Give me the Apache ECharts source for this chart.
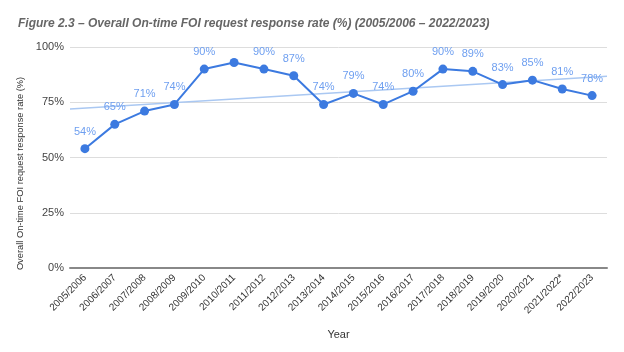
<!DOCTYPE html>
<html>
<head>
<meta charset="utf-8">
<script src="https://cdn.jsdelivr.net/npm/echarts@6/dist/echarts.min.js"></script>
<style>
  html, body { margin: 0; padding: 0; background: #fff; }
  #chart { width: 624px; height: 352px; }
</style>
</head>
<body>
<div id="chart"></div>
<script>
// 数据
var years = ["2005/2006", "2006/2007", "2007/2008", "2008/2009", "2009/2010", "2010/2011",
  "2011/2012", "2012/2013", "2013/2014", "2014/2015", "2015/2016", "2016/2017",
  "2017/2018", "2018/2019", "2019/2020", "2020/2021", "2021/2022*", "2022/2023"];
var rates = [54, 65, 71, 74, 90, 93, 90, 87, 74, 79, 74, 80, 90, 89, 83, 85, 81, 78];
// 哪些点显示数值标签（2010/2011 没有）
var showLabel = [1, 1, 1, 1, 1, 0, 1, 1, 1, 1, 1, 1, 1, 1, 1, 1, 1, 1];
// 趋势线两端的值（绘图区左右边缘处）
var trendEnds = [72, 86.8];
var yTicks = [0, 25, 50, 75, 100];

var myChart = echarts.init(document.getElementById("chart"));

var option = {
  animation: false,
  textStyle: { fontFamily: "Liberation Sans, Arial, sans-serif" },
  title: {
    text: "Figure 2.3 – Overall On-time FOI request response rate (%) (2005/2006 – 2022/2023)",
    left: 13,
    top: 13,
    textStyle: {
      fontFamily: "Liberation Sans, Arial, sans-serif",
      fontSize: 12,
      fontStyle: "italic",
      fontWeight: "bold",
      color: "#666"
    }
  },
  grid: { left: 70, right: 17, top: 47, bottom: 84 },
  xAxis: [
    {
      type: "category",
      data: years,
      boundaryGap: true,
      name: "Year",
      nameLocation: "middle",
      nameGap: 61,
      nameTextStyle: { color: "#333", fontSize: 11 },
      axisTick: { show: false },
      axisLine: { lineStyle: { color: "#888", width: 2 } },
      axisLabel: { rotate: 45, color: "#333", fontSize: 10, margin: 8, interval: 0 }
    },
    {
      type: "value",
      min: -0.5,
      max: years.length - 0.5,
      show: false
    }
  ],
  yAxis: {
    type: "value",
    min: yTicks[0],
    max: yTicks[yTicks.length - 1],
    interval: 25,
    name: "Overall On-time FOI request response rate (%)",
    nameLocation: "middle",
    nameGap: 39,
    nameTextStyle: { color: "#333", fontSize: 9.3, padding: [0, 32, 0, 0] },
    axisLine: { show: false },
    axisTick: { show: false },
    axisLabel: { color: "#444", fontSize: 11, formatter: "{value}%", margin: 6 },
    splitLine: { lineStyle: { color: "#ddd", width: 1 } }
  },
  series: [
    {
      name: "Trend",
      type: "line",
      xAxisIndex: 1,
      data: [[-0.5, trendEnds[0]], [years.length - 0.5, trendEnds[1]]],
      symbol: "none",
      lineStyle: { color: "#aac8f2", width: 1.5 },
      silent: true,
      z: 1
    },
    {
      name: "Rate",
      type: "line",
      data: rates.map(function (v, i) {
        return { value: v, label: { show: !!showLabel[i] } };
      }),
      symbol: "circle",
      symbolSize: 9,
      itemStyle: { color: "#3c7ae0" },
      lineStyle: { color: "#3c7ae0", width: 2 },
      label: {
        position: "top",
        distance: 7,
        color: "#6e9ff0",
        fontSize: 11,
        formatter: "{c}%"
      },
      z: 3
    }
  ]
};

myChart.setOption(option);
</script>
</body>
</html>
